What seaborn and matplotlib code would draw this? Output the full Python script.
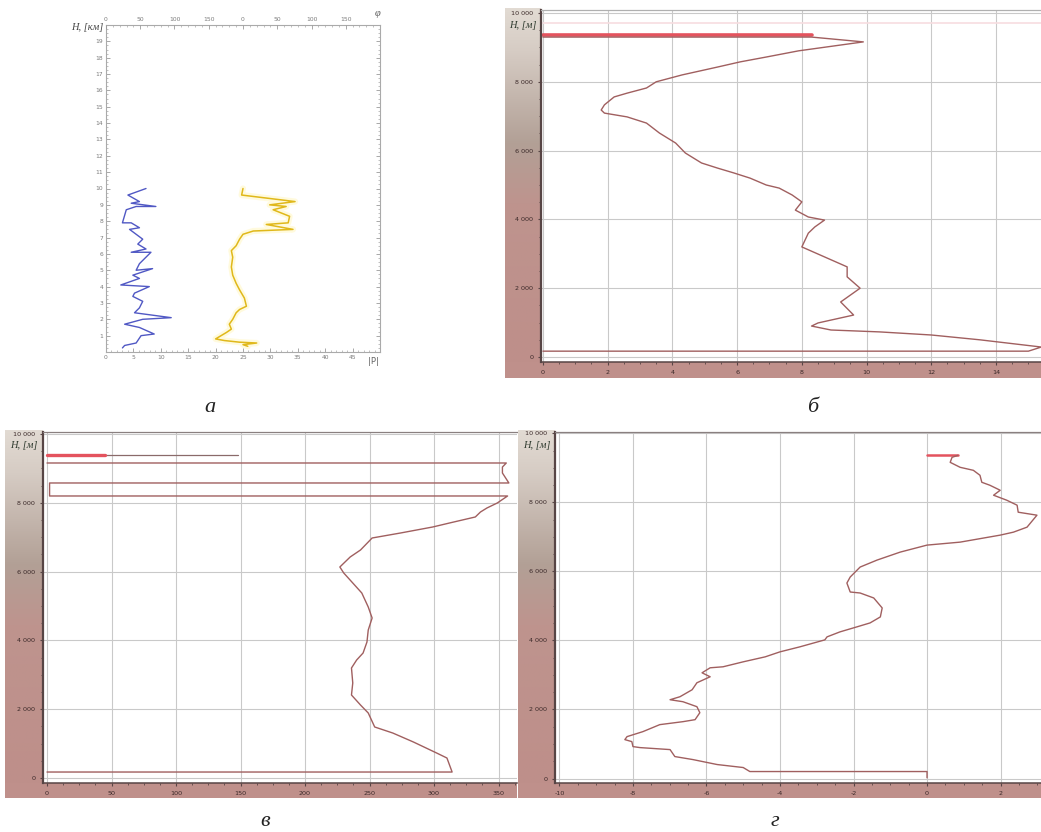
import matplotlib
matplotlib.use("Agg")
import numpy as np
import matplotlib.pyplot as plt
from matplotlib.patches import Rectangle
from matplotlib.ticker import MultipleLocator, FixedLocator, FixedFormatter
import seaborn as sns

# ---------------- panel а : |P| (blue) and φ (yellow) versus height, km
a_h_blue = [10.0, 9.6, 9.2, 9.1, 8.9, 8.9, 8.7, 7.9, 7.9, 7.6, 7.5, 6.9, 6.6, 6.3,
            6.1, 6.1, 5.4, 5.0, 5.1, 4.7, 4.5, 4.1, 4.0, 3.6, 3.4, 3.1, 2.7, 2.4,
            2.1, 2.0, 1.7, 1.5, 1.1, 1.0, 0.55, 0.4, 0.25]
a_p_blue = [7.3, 4.0, 6.1, 4.6, 9.1, 5.5, 3.7, 3.0, 4.6, 6.1, 4.3, 6.7, 5.8, 7.3,
            4.6, 8.2, 6.1, 5.5, 8.5, 4.9, 6.1, 2.7, 7.9, 5.2, 4.9, 6.7, 6.1, 5.2,
            11.9, 6.7, 3.4, 6.1, 8.8, 6.4, 5.5, 3.4, 3.0]
a_h_yellow = [10.0, 9.6, 9.2, 9.0, 8.9, 8.7, 8.3, 7.9, 7.8, 7.5, 7.4, 7.2, 6.9, 6.5,
              6.2, 5.8, 5.2, 4.7, 4.2, 3.8, 3.3, 2.8, 2.6, 2.4, 2.0, 1.7, 1.4, 1.2,
              1.0, 0.8, 0.7, 0.6, 0.55, 0.45, 0.35]
a_phi_yellow = [200, 198, 276, 239, 263, 244, 268, 266, 234, 273, 215, 200, 195, 190,
                183, 185, 183, 185, 190, 195, 202, 205, 195, 190, 185, 180, 183, 176,
                168, 160, 173, 195, 220, 200, 207]
a_left_ticks = list(range(1, 20))
a_bottom_ticks = [0, 5, 10, 15, 20, 25, 30, 35, 40, 45]
a_top_ticks = [0, 50, 100, 150, 200, 250, 300, 350]
a_top_labels = ["0", "50", "100", "150", "0", "50", "100", "150"]

# ---------------- panel б
b_val = [0, 15.0, 15.4, 13.5, 12.0, 10.4, 8.9, 8.3, 8.5, 9.6, 9.2, 9.8, 9.4, 9.4,
         8.7, 8.0, 8.2, 8.4, 8.7, 8.2, 7.8, 8.0, 7.7, 7.3, 6.9, 6.4, 5.9, 5.4, 4.9,
         4.4, 4.1, 3.6, 3.2, 2.6, 1.9, 1.8, 1.9, 2.2, 2.6, 3.2, 3.5, 4.3, 5.4, 6.1,
         6.9, 7.9, 9.9, 8.3, 0]
b_h = [170, 170, 290, 500, 640, 730, 785, 900, 990, 1220, 1600, 2000, 2330, 2620,
       2910, 3200, 3600, 3780, 3980, 4070, 4270, 4510, 4710, 4910, 5000, 5200, 5350,
       5490, 5640, 5930, 6220, 6510, 6800, 6980, 7090, 7180, 7330, 7560, 7670, 7820,
       8000, 8200, 8430, 8580, 8720, 8900, 9160, 9300, 9300]
b_red_val = [0, 8.3]
b_red_h = [9360, 9360]
b_faint_val = [0, 15.4]
b_faint_h = [9700, 9700]
b_x_ticks = [0, 2, 4, 6, 8, 10, 12, 14]

# ---------------- panel в
c_val = [0, 356, 353, 353, 358, 2, 2, 357, 349, 341, 336, 332, 312, 299, 274, 252,
         249, 243, 235, 227, 230, 237, 244, 249, 252, 249, 248, 245, 240, 236, 237,
         236, 243, 249, 254, 268, 284, 302, 310, 312, 314, 0]
c_h = [9157, 9157, 9040, 8866, 8576, 8576, 8198, 8198, 7994, 7849, 7733, 7588, 7413,
       7297, 7122, 6977, 6860, 6628, 6425, 6134, 5960, 5669, 5378, 4971, 4651, 4302,
       3953, 3634, 3430, 3198, 2762, 2413, 2122, 1890, 1483, 1308, 1047, 727, 581,
       378, 174, 174]
c_thin_val = [0, 148]
c_thin_h = [9390, 9390]
c_red_val = [0, 45]
c_red_h = [9390, 9390]
c_x_ticks = [0, 50, 100, 150, 200, 250, 300, 350]

# ---------------- panel г
d_val = [0.84, 0.68, 0.63, 0.90, 1.26, 1.44, 1.49, 1.71, 1.99, 1.81, 2.17, 2.45,
         2.48, 2.99, 2.72, 2.35, 1.99, 0.90, 0, -0.73, -1.36, -1.82, -2.09, -2.18,
         -2.09, -1.82, -1.45, -1.22, -1.27, -1.55, -1.91, -2.37, -2.72, -2.78, -3.46,
         -4.0, -4.4, -5.0, -5.55, -5.9, -6.12, -5.9, -6.26, -6.39, -6.72, -6.99,
         -6.64, -6.26, -6.18, -6.31, -6.64, -7.27, -7.73, -8.16, -8.22, -8.03, -8.0,
         -7.81, -6.99, -6.86, -6.37, -5.71, -5.0, -4.82, -4.27, 0, 0]
d_h = [9364, 9306, 9161, 9017, 8930, 8786, 8583, 8497, 8352, 8208, 8063, 7919, 7716,
       7630, 7283, 7138, 7052, 6849, 6763, 6560, 6329, 6127, 5838, 5664, 5404, 5375,
       5231, 4942, 4682, 4508, 4393, 4248, 4104, 4017, 3815, 3670, 3526, 3381, 3237,
       3208, 3063, 2948, 2774, 2572, 2370, 2283, 2225, 2081, 1907, 1705, 1647, 1561,
       1358, 1214, 1127, 1069, 925, 896, 838, 636, 549, 405, 318, 202, 202, 202, 20]
d_red_val = [0, 0.84]
d_red_h = [9364, 9364]
d_x_ticks = [-10, -8, -6, -4, -2, 0, 2]

h_ticks = [0, 2000, 4000, 6000, 8000, 10000]
h_labels = ["0", "2 000", "4 000", "6 000", "8 000", "10 000"]

sns.set_theme(style="white")
plt.rcParams['font.family'] = ['DejaVu Sans']

W, H = 1041, 832
fig = plt.figure(figsize=(W / 100, H / 100), dpi=100)
fig.patch.set_facecolor("white")


def px_axes(x0, y0, x1, y1, **kw):
    return fig.add_axes([x0 / W, 1 - y1 / H, (x1 - x0) / W, (y1 - y0) / H], **kw)


def fig_text(x, y, s, **kw):
    return fig.text(x / W, 1 - y / H, s, **kw)


def px_rect(x0, y0, x1, y1, color):
    fig.add_artist(Rectangle((x0 / W, 1 - y1 / H), (x1 - x0) / W, (y1 - y0) / H,
                             transform=fig.transFigure, facecolor=color,
                             edgecolor="none", zorder=0))


# gradient used for the height scale strip
stops = [0.0, 0.12, 0.38, 0.55, 1.0]
cols = np.array([[226, 219, 211], [214, 204, 196], [178, 160, 150],
                 [190, 148, 142], [190, 143, 138]]) / 255.0
ys = np.linspace(0, 1, 256)
grad = np.stack([np.interp(ys, stops, cols[:, k]) for k in range(3)], axis=1)[:, None, :]
BAND = "#bf908b"


def band(x0, y0, x1, y1, bottom_y1, right_x):
    bx = px_axes(x0, y0, x1, y1)
    bx.imshow(grad, aspect="auto", extent=[0, 1, 0, 1], interpolation="bilinear")
    bx.set_axis_off()
    px_rect(x0, y1, right_x, bottom_y1, BAND)


LINE = "#a05f5f"
GRID = "#c9c9c9"
DARK = "#574545"


def style_profile(ax, xlim, ylim, xticks, xlabels):
    ax.set_xlim(*xlim)
    ax.set_ylim(*ylim)
    ax.set_facecolor("white")
    ax.xaxis.set_major_locator(FixedLocator(xticks))
    ax.xaxis.set_major_formatter(FixedFormatter(xlabels))
    ax.yaxis.set_major_locator(FixedLocator(h_ticks))
    ax.yaxis.set_major_formatter(FixedFormatter(h_labels))
    ax.yaxis.set_minor_locator(MultipleLocator(500))
    ax.xaxis.set_minor_locator(MultipleLocator((xticks[1] - xticks[0]) / 4))
    ax.grid(True, which="major", color=GRID, lw=0.8)
    ax.tick_params(axis="both", which="major", direction="out", length=2.5,
                   width=0.8, color=DARK, labelsize=4.6, labelcolor="#3a2828", pad=3)
    ax.tick_params(axis="both", which="minor", direction="out", length=1.5,
                   width=0.6, color=DARK)
    ax.tick_params(axis="x", which="both", bottom=True, top=False)
    ax.tick_params(axis="y", which="both", left=True, right=False)
    for lab in ax.get_yticklabels():
        lab.set_ha("right")
    ax.spines["left"].set_color(DARK)
    ax.spines["left"].set_linewidth(1.6)
    ax.spines["bottom"].set_color(DARK)
    ax.spines["bottom"].set_linewidth(1.1)
    ax.spines["top"].set_color("#8a8080")
    ax.spines["top"].set_linewidth(0.9)
    ax.spines["right"].set_visible(False)
    ax.set_xlabel("")
    ax.set_ylabel("")


serif = dict(family="Liberation Serif", style="italic")

# ================= panel а =================
ax_a = px_axes(106, 25, 380, 352)
ax_a.set_facecolor("white")
sns.lineplot(x=a_p_blue, y=a_h_blue, sort=False, estimator=None, color="#5058c4",
             lw=1.0, ax=ax_a)
ax_a.set_xlim(0, 50)
ax_a.set_ylim(0, 20)
ax_a.xaxis.set_major_locator(FixedLocator(a_bottom_ticks))
ax_a.xaxis.set_minor_locator(MultipleLocator(1))
ax_a.yaxis.set_major_locator(FixedLocator(a_left_ticks))
ax_a.yaxis.set_minor_locator(MultipleLocator(0.25))
ax_a.tick_params(axis="both", which="major", direction="in", length=3, width=0.6,
                 color="#9a9a9a", labelsize=4.3, labelcolor="#7a7a7a", pad=2)
ax_a.tick_params(axis="both", which="minor", direction="in", length=1.5, width=0.5,
                 color="#a8a8a8")
ax_a.tick_params(axis="x", which="both", bottom=True, top=False)
ax_a.tick_params(axis="y", which="both", left=True, right=True, labelright=False)
for s in ax_a.spines.values():
    s.set_color("#aaaaaa")
    s.set_linewidth(0.8)
ax_a.set_xlabel("")
ax_a.set_ylabel("")

ax_a2 = ax_a.twiny()
sns.lineplot(x=a_phi_yellow, y=a_h_yellow, sort=False, estimator=None,
             color="#fff3a0", lw=4.5, alpha=0.35, ax=ax_a2)
sns.lineplot(x=a_phi_yellow, y=a_h_yellow, sort=False, estimator=None,
             color="#e0b81a", lw=1.1, ax=ax_a2)
ax_a2.set_xlim(0, 400)
ax_a2.set_ylim(0, 20)
ax_a2.xaxis.set_major_locator(FixedLocator(a_top_ticks))
ax_a2.xaxis.set_major_formatter(FixedFormatter(a_top_labels))
ax_a2.xaxis.set_minor_locator(MultipleLocator(10))
ax_a2.tick_params(axis="x", which="major", direction="in", length=3, width=0.6,
                  color="#9a9a9a", labelsize=4.3, labelcolor="#7a7a7a", pad=2,
                  top=True, bottom=False, labeltop=True, labelbottom=False)
ax_a2.tick_params(axis="x", which="minor", direction="in", length=1.5, width=0.5,
                  color="#a8a8a8", top=True, bottom=False)
for s in ax_a2.spines.values():
    s.set_visible(False)
ax_a2.set_xlabel("")
ax_a2.set_ylabel("")

fig_text(103, 28, "H, [км]", ha="right", va="center", fontsize=7.5, color="#444444", **serif)
fig_text(378, 14, "φ", ha="center", va="center", fontsize=7.5, color="#555555", **serif)
fig_text(373, 362, "|P|", ha="center", va="center", fontsize=6, color="#666666")
fig_text(210, 407, "а", ha="center", va="center", fontsize=16, color="#222222", **serif)

# ================= panel б =================
band(505, 8, 541, 362, 378, 1041)
ax_b = px_axes(541, 10, 1041, 362)
sns.lineplot(x=b_faint_val, y=b_faint_h, sort=False, estimator=None,
             color="#f7dde0", lw=1.2, ax=ax_b)
sns.lineplot(x=b_red_val, y=b_red_h, sort=False, estimator=None,
             color="#e4535e", lw=2.6, ax=ax_b)
sns.lineplot(x=b_val, y=b_h, sort=False, estimator=None, color=LINE, lw=1.0, ax=ax_b)
style_profile(ax_b, (-0.06, 15.39), (-145, 10087), b_x_ticks,
              [str(v) for v in b_x_ticks])
ax_b.spines["top"].set_color("#b0b0b0")
fig_text(523, 25, "H, [м]", ha="center", va="center", fontsize=7.5, color="#2e3a2e", **serif)
fig_text(813, 407, "б", ha="center", va="center", fontsize=16, color="#222222", **serif)

# ================= panel в =================
band(5, 430, 43, 783, 798, 517)
ax_c = px_axes(43, 432, 517, 783)
sns.lineplot(x=c_thin_val, y=c_thin_h, sort=False, estimator=None, color="#8a6a6a",
             lw=0.9, ax=ax_c)
sns.lineplot(x=c_red_val, y=c_red_h, sort=False, estimator=None, color="#e4535e",
             lw=2.4, ax=ax_c)
sns.lineplot(x=c_val, y=c_h, sort=False, estimator=None, color=LINE, lw=1.0, ax=ax_c)
style_profile(ax_c, (-3.1, 364.3), (-145, 10058), c_x_ticks,
              [str(v) for v in c_x_ticks])
fig_text(24, 446, "H, [м]", ha="center", va="center", fontsize=7.5, color="#2e3a2e", **serif)
fig_text(265, 822, "в", ha="center", va="center", fontsize=16, color="#222222", **serif)

# ================= panel г =================
band(518, 430, 555, 783, 798, 1041)
ax_d = px_axes(555, 432, 1041, 783)
sns.lineplot(x=d_red_val, y=d_red_h, sort=False, estimator=None, color="#e4535e",
             lw=1.8, ax=ax_d)
sns.lineplot(x=d_val, y=d_h, sort=False, estimator=None, color=LINE, lw=1.0, ax=ax_d)
style_profile(ax_d, (-10.12, 3.10), (-130, 10040), d_x_ticks,
              [str(v) for v in d_x_ticks])
fig_text(537, 446, "H, [м]", ha="center", va="center", fontsize=7.5, color="#2e3a2e", **serif)
fig_text(775, 822, "г", ha="center", va="center", fontsize=16, color="#222222", **serif)

fig.savefig("out.png", dpi=100, facecolor="white")
